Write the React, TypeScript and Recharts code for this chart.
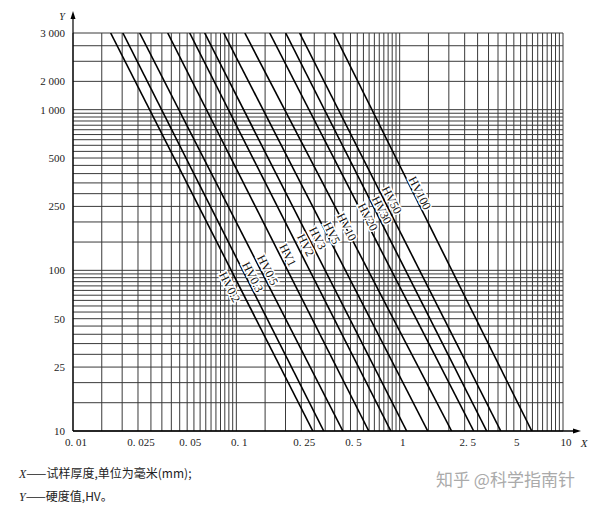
import React from 'react';
import { ComposedChart, Line, XAxis, YAxis, CartesianGrid, ReferenceDot } from 'recharts';

// test force series
const seriesNames = ['HV0.2', 'HV0.3', 'HV0.5', 'HV1', 'HV2', 'HV3', 'HV5', 'HV10', 'HV20', 'HV30', 'HV50', 'HV100'];
// thickness (mm) where each line meets HV 3000 and HV 10
const xAtTop = [0.017, 0.0202, 0.0256, 0.038, 0.0518, 0.064, 0.0837, 0.1127, 0.16, 0.2005, 0.244, 0.395];
const xAtBottom = [0.294, 0.343, 0.449, 0.647, 0.883, 1.104, 1.486, 2.08, 2.84, 3.41, 4.16, 6.44];
const yTop = 3000;
const yBottom = 10;

// where the rotated labels sit
const labelX = [0.0911, 0.126, 0.1556, 0.2065, 0.266, 0.315, 0.384, 0.474, 0.638, 0.777, 0.895, 1.327];
const labelY = [78.7, 90.9, 100.4, 124.5, 143.6, 158.8, 170.7, 186, 214.6, 237.3, 273.8, 302.7];

// grid
const xDecades = [0.01, 0.1, 1];
const yDecades = [10, 100];
const minorSteps = [1, 1.5, 2, 2.5, 3, 3.5, 4, 4.5, 5, 5.5, 6, 6.5, 7, 7.5, 8, 8.5, 9, 9.5];
const yUpperGrid = [1000, 1500, 2000, 2500, 3000];

const xLabelValues = [0.01, 0.025, 0.05, 0.1, 0.25, 0.5, 1, 2.5, 5, 10];
const xLabelTexts = ['0. 01', '0. 025', '0. 05', '0. 1', '0. 25', '0. 5', '1', '2. 5', '5', '10'];
const yLabelValues = [10, 25, 50, 100, 250, 500, 1000, 1500, 3000];
const yLabelTexts = ['10', '25', '50', '100', '250', '500', '1 000', '2 000', '3 000'];

const round = (v: number) => Number(v.toPrecision(6));
const xTicks = [...xDecades.flatMap(d => minorSteps.map(m => round(m * d))), 10];
const yTicks = [...yDecades.flatMap(d => minorSteps.map(m => round(m * d))), ...yUpperGrid];

const lookup = (vals: number[], texts: string[]) => (v: number) => {
    const i = vals.findIndex(lv => Math.abs(lv - v) < lv * 1e-6);
    return i >= 0 ? texts[i] : '';
};

const serif = '"Liberation Serif", "DejaVu Serif", serif';
const cjk = '"Noto Sans CJK SC", sans-serif';

const App: React.FC = () => {
    return (
        <div style={{ position: 'absolute', left: 0, top: 0, width: 600, height: 527, background: '#fff' }}>
            <ComposedChart width={600} height={460} margin={{ top: 33, right: 37, left: 0, bottom: 9 }}>
                <CartesianGrid stroke="#3a3a3a" strokeWidth={1} />
                <XAxis
                    dataKey="x"
                    type="number"
                    scale="log"
                    domain={[0.01, 10]}
                    allowDataOverflow
                    ticks={xTicks}
                    interval={0}
                    tickFormatter={lookup(xLabelValues, xLabelTexts)}
                    tickLine={false}
                    tickSize={0}
                    tickMargin={7}
                    height={20}
                    axisLine={{ stroke: '#000', strokeWidth: 1.5 }}
                    tick={{ fill: '#222', fontSize: 11, fontFamily: serif, dx: 3 }}
                />
                <YAxis
                    type="number"
                    scale="log"
                    domain={[10, 3000]}
                    allowDataOverflow
                    ticks={yTicks}
                    interval={0}
                    tickFormatter={lookup(yLabelValues, yLabelTexts)}
                    tickLine={false}
                    tickSize={0}
                    tickMargin={8}
                    width={73}
                    axisLine={{ stroke: '#000', strokeWidth: 1.2 }}
                    tick={{ fill: '#222', fontSize: 11, fontFamily: serif }}
                />
                {seriesNames.map((name, i) => (
                    <Line
                        key={name}
                        data={[{ x: xAtTop[i], y: yTop }, { x: xAtBottom[i], y: yBottom }]}
                        dataKey="y"
                        stroke="#000"
                        strokeWidth={1.6}
                        dot={false}
                        activeDot={false}
                        isAnimationActive={false}
                    />
                ))}
                {seriesNames.map((name, i) => (
                    <ReferenceDot
                        key={'lbl' + name}
                        x={labelX[i]}
                        y={labelY[i]}
                        r={0}
                        ifOverflow="visible"
                        shape={(p: any) => (
                            <text
                                x={p.cx}
                                y={p.cy}
                                transform={`rotate(63 ${p.cx} ${p.cy})`}
                                textAnchor="middle"
                                dominantBaseline="central"
                                fontSize={12}
                                fontFamily={serif}
                                fill="#111"
                                stroke="#fff"
                                strokeWidth={3}
                                paintOrder="stroke"
                            >
                                {name}
                            </text>
                        )}
                    />
                ))}
            </ComposedChart>

            <svg width={600} height={460} style={{ position: 'absolute', left: 0, top: 0, pointerEvents: 'none' }}>
                <line x1={73} y1={33} x2={73} y2={16} stroke="#000" strokeWidth={1.2} />
                <path d="M73 11 L70.5 19 L75.5 19 Z" fill="#000" />
                <text x={62} y={20} fontSize={10} fontStyle="italic" fontFamily={serif} fill="#222" textAnchor="middle">Y</text>
                <line x1={563} y1={431} x2={576} y2={431} stroke="#000" strokeWidth={1.5} />
                <path d="M581 431 L573 428.5 L573 433.5 Z" fill="#000" />
                <text x={584} y={447} fontSize={11} fontStyle="italic" fontFamily={serif} fill="#222" textAnchor="middle">X</text>
            </svg>

            <div style={{ position: 'absolute', left: 19, top: 462, fontSize: 12, lineHeight: '21px', color: '#222', fontFamily: cjk }}>
                <div>
                    <span style={{ fontFamily: serif, fontStyle: 'italic' }}>X</span>——试样厚度,单位为毫米(mm);
                </div>
                <div>
                    <span style={{ fontFamily: serif, fontStyle: 'italic' }}>Y</span>——硬度值,HV。
                </div>
            </div>
            <div style={{ position: 'absolute', left: 436, top: 466, fontSize: 17, color: '#aaa', fontFamily: cjk, whiteSpace: 'nowrap' }}>
                知乎 @科学指南针
            </div>
        </div>
    );
};

export default App;
